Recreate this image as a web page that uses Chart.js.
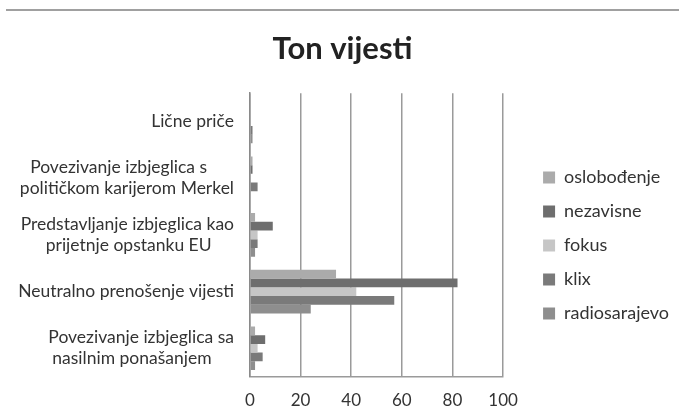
<!DOCTYPE html>
<html>
<head>
<meta charset="utf-8">
<script src="https://cdn.jsdelivr.net/npm/chart.js@4.4.0/dist/chart.umd.min.js"></script>
<style>
    body { margin: 0; background: #fff; }
    #wrap { position: relative; width: 679px; height: 412px; }
    #topline { position: absolute; left: 6px; right: 0; top: 9px; height: 2px; background: #a0a0a0; }
</style>
</head>
<body>
<div id="wrap">
    <div id="topline"></div>
    <canvas id="tonChart" width="679" height="412"></canvas>
</div>
<script>
const categories = [
    ["Lične priče"],
    ["Povezivanje izbjeglica s      ", "političkom karijerom Merkel"],
    ["Predstavljanje izbjeglica kao", "prijetnje opstanku EU     "],
    ["Neutralno prenošenje vijesti"],
    ["Povezivanje izbjeglica sa", "nasilnim ponašanjem     "],
];
const oslobodjenje = [0, 1, 2, 34, 2];
const nezavisne = [0, 1, 9, 82, 6];
const fokus = [0, 0, 3, 42, 3];
const klix = [1, 3, 3, 57, 5];
const radiosarajevo = [1, 0, 2, 24, 2];
const xTicks = [0, 20, 40, 60, 80, 100];

const font = "Lato, 'Open Sans', sans-serif";

const ctx = document.getElementById("tonChart").getContext("2d");

const chart = new Chart(ctx, {
    type: "bar",
    data: {
        labels: categories,
        datasets: [
            { label: "oslobođenje", data: oslobodjenje, backgroundColor: "#ababab" },
            { label: "nezavisne", data: nezavisne, backgroundColor: "#6e6e6e" },
            { label: "fokus", data: fokus, backgroundColor: "#c6c6c6" },
            { label: "klix", data: klix, backgroundColor: "#7a7a7a" },
            { label: "radiosarajevo", data: radiosarajevo, backgroundColor: "#8e8e8e" },
        ],
    },
    options: {
        indexAxis: "y",
        responsive: false,
        animation: false,
        layout: { padding: { top: 30, right: 0, bottom: -13, left: 6 } },
        datasets: {
            bar: { categoryPercentage: 0.77, barPercentage: 1 },
        },
        plugins: {
            title: {
                display: true,
                text: "Ton vijesti",
                color: "#222",
                font: { family: font, size: 31, weight: "bold" },
                padding: { top: 0, bottom: 26 },
            },
            legend: {
                position: "right",
                maxWidth: 220,
                title: { display: true, text: " ", font: { size: 10 }, padding: 12 },
                labels: {
                    color: "#333",
                    font: { family: font, size: 18 },
                    boxWidth: 12,
                    boxHeight: 12,
                    padding: 16,
                },
            },
            tooltip: { enabled: false },
        },
        scales: {
            x: {
                min: 0,
                max: 100,
                afterBuildTicks: (s) => { s.ticks = xTicks.map((v) => ({ value: v })); },
                grid: { color: "#9a9a9a", lineWidth: 1.5, drawTicks: false },
                border: { color: "#9a9a9a", width: 1.5 },
                ticks: { color: "#333", font: { family: font, size: 17 }, padding: 14 },
            },
            y: {
                afterFit: (s) => { s.width = 244; },
                grid: { display: false, drawTicks: false },
                border: { color: "#8a8a8a", width: 1.5 },
                ticks: { color: "#333", font: { family: font, size: 17.5 }, padding: 16, crossAlign: "near" },
            },
            gap: {
                type: "category",
                position: "right",
                afterFit: (s) => { s.width = 24; },
                grid: { display: false, drawTicks: false },
                border: { display: false },
                ticks: { display: false },
            },
        },
    },
});
</script>
</body>
</html>
